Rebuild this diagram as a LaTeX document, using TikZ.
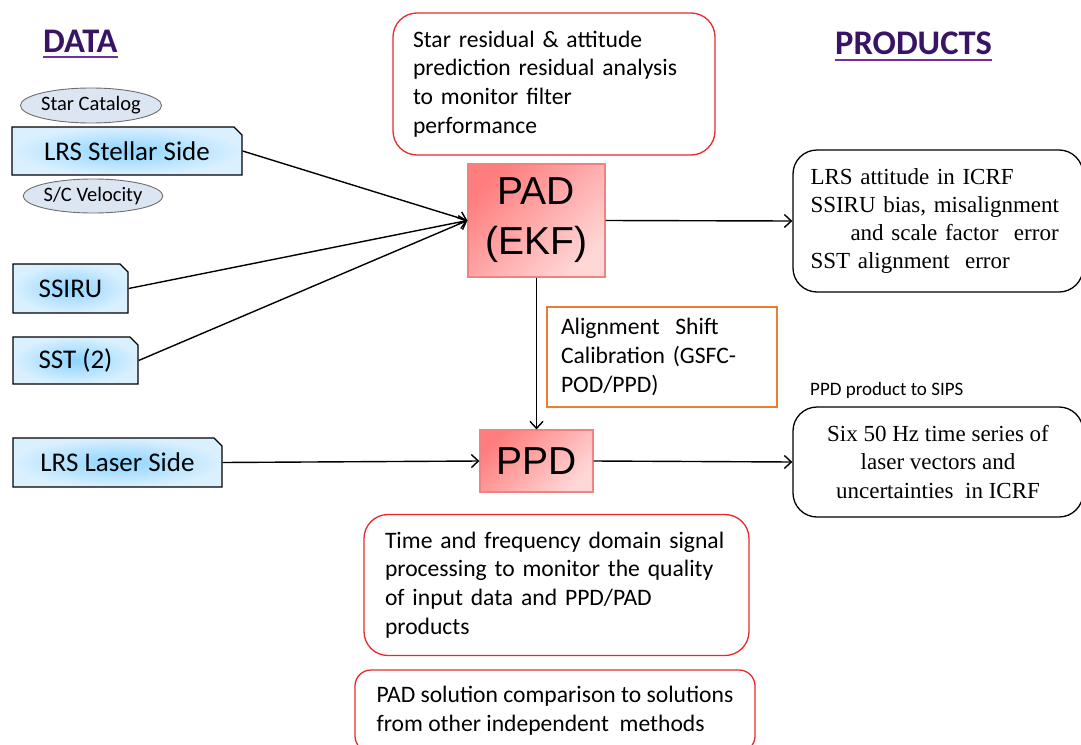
\documentclass[tikz,border=0pt]{standalone}
\usepackage{fontspec}
\setmainfont{Carlito}
\newfontfamily\arialf{Liberation Sans}
\newfontfamily\timesf{Liberation Serif}
\usetikzlibrary{shapes.misc,shapes.geometric,arrows.meta}
\hyphenpenalty=10000
\exhyphenpenalty=10000
\definecolor{hdrtext}{RGB}{58,20,100}
\definecolor{hdrline}{RGB}{112,48,160}
\definecolor{boxred}{RGB}{232,40,44}
\definecolor{alorange}{RGB}{237,125,49}
\definecolor{blueout}{RGB}{218,240,255}
\definecolor{bluein}{RGB}{140,212,255}
\definecolor{ellfill}{RGB}{220,230,242}
\definecolor{ellline}{RGB}{110,110,110}
\definecolor{padborder}{RGB}{240,130,130}
\definecolor{padtl}{RGB}{255,125,125}
\definecolor{padbr}{RGB}{255,215,215}
\tikzset{
  x=1pt, y=-1pt,
  hdr/.style={inner sep=0pt, text=hdrtext, font=\bfseries\fontsize{34.5}{40}\selectfont},
  hdrul/.style={draw=hdrline, line width=2.2pt},
  inbox/.style={chamfered rectangle, chamfered rectangle corners=north east,
    chamfered rectangle xsep=4pt, chamfered rectangle ysep=4pt,
    draw=black, line width=1.3pt, inner color=bluein, outer color=blueout,
    inner sep=0pt, font=\fontsize{27}{31}\selectfont},
  ell/.style={ellipse, draw=ellline, line width=0.9pt, fill=ellfill, inner sep=0pt,
    font=\fontsize{20.5}{24}\selectfont},
  procbox/.style={rectangle, draw=padborder, line width=1.2pt, shading=axis,
    top color=padtl, bottom color=padbr, shading angle=45, inner sep=0pt,
    font=\arialf\fontsize{39}{50}\selectfont, align=center},
  redbox/.style={rectangle, rounded corners=24pt, draw=boxred, line width=1.3pt,
    fill=white, inner sep=0pt, align=left, font=\fontsize{23.6}{28.8}\selectfont},
  prodbox/.style={rectangle, rounded corners=24pt, draw=black, line width=1.3pt,
    fill=white, inner sep=0pt, font=\timesf\fontsize{23}{28.3}\selectfont},
  orbox/.style={rectangle, draw=alorange, line width=1.3pt, fill=white,
    inner sep=0pt, align=left, font=\fontsize{23.6}{29}\selectfont},
  conn/.style={draw=black, line width=1.4pt, -{Straight Barb[length=7pt,width=13pt,line width=1.4pt]}},
}
\begin{document}
\begin{tikzpicture}
\useasboundingbox (0,0) rectangle (1081,744);

% headers
\node[hdr, anchor=base west] (data) at (43,52) {DATA};
\draw[hdrul] ([yshift=-5pt]data.base west) -- ([yshift=-5pt]data.base east);
\node[hdr, anchor=base west] (products) at (835,54) {PRODUCTS};
\draw[hdrul] ([yshift=-6pt]products.base west) -- ([yshift=-6pt]products.base east);

% data inputs
\node[ell, minimum width=128pt, minimum height=35pt] (starcat) at (91,105.5) {Star Catalog};
\node[inbox, minimum width=230pt, minimum height=48pt] (stellar) at (127,151) {LRS Stellar Side};
\node[ell, minimum width=134pt, minimum height=34pt] (scvel) at (93,196) {S/C Velocity};
\node[inbox, minimum width=115pt, minimum height=49pt] (ssiru) at (70.5,288.5) {SSIRU};
\node[inbox, minimum width=125pt, minimum height=47pt] (sst) at (75.5,360.5) {SST (2)};
\node[inbox, minimum width=209pt, minimum height=49pt] (laser) at (117.5,462.5) {LRS Laser Side};

% processing
\node[redbox, minimum width=322pt, minimum height=142pt, text width=282pt] (topbox) at (554,84)
  {Star residual \& attitude\\prediction residual analysis\\to monitor filter\\performance};
\node[procbox, minimum width=137pt, minimum height=113pt] (pad) at (536.5,220.5) {PAD\\(EKF)};
\node[orbox, minimum width=230pt, minimum height=100pt, text width=202pt] (align) at (662,357)
  {Alignment\ \ Shift\\Calibration (GSFC-\\POD/PPD)};
\node[procbox, minimum width=113pt, minimum height=62pt] (ppd) at (536.5,461) {PPD};
\node[redbox, minimum width=385pt, minimum height=141pt, text width=343pt] (bot1) at (556.5,585)
  {Time and frequency domain signal\\processing to monitor the quality\\of input data and PPD/PAD\\products};
\node[redbox, rounded corners=16pt, minimum width=400pt, minimum height=82pt] (bot2) at (555,711)
  {PAD solution comparison to solutions\\from other independent\ \ methods};

% products
\node[prodbox, minimum width=290pt, minimum height=142pt, text width=255pt, align=left] (prod1) at (938,221)
  {LRS attitude in ICRF\\SSIRU bias, misalignment\\\hspace*{40pt}and scale factor\ \ error\\SST alignment\ \ error};
\node[inner sep=0pt, anchor=west, font=\fontsize{19}{22}\selectfont] (ppdlab) at (810,390) {PPD product to SIPS};
\node[prodbox, minimum width=290pt, minimum height=110pt, align=center] (prod2) at (938,462)
  {Six 50 Hz time series of\\laser vectors and\\uncertainties\ \ in ICRF};

% connectors
\draw[conn] (stellar.east) -- (pad.west);
\draw[conn] (ssiru.east) -- (pad.west);
\draw[conn] (sst.east) -- (pad.west);
\draw[conn] (pad.east) -- (prod1.west);
\draw[conn] (pad.south) -- (ppd.north);
\draw[conn] (laser.east) -- (ppd.west);
\draw[conn] (ppd.east) -- (prod2.west);
\end{tikzpicture}
\end{document}
